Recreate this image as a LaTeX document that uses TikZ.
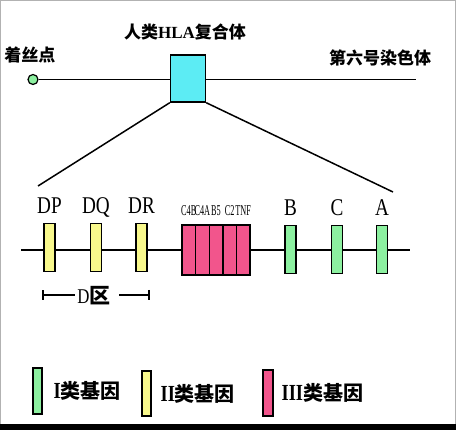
\documentclass[tikz,border=0pt]{standalone}
\usepackage{fontspec}
\setmainfont{Liberation Serif}
\newfontfamily\cjk{Noto Sans CJK SC}
\usetikzlibrary{positioning,arrows.meta}
\definecolor{genegreen}{HTML}{8CF0A0}
\definecolor{geneyellow}{HTML}{F8F88C}
\definecolor{genepink}{HTML}{F2558C}
\definecolor{hlacyan}{HTML}{5CECF4}
\newcommand{\narrowtxt}[1]{\scalebox{0.55}[1]{#1}}
\newcommand{\tallletters}[1]{\scalebox{0.8}[1]{#1}}

\begin{document}
\begin{tikzpicture}[x=1pt,y=-1pt,
		line width=1.8pt,
		gene/.style={draw=black,line width=1.4pt,minimum width=11pt,minimum height=48pt,inner sep=0pt},
		classI/.style={gene,fill=genegreen},
		classII/.style={gene,fill=geneyellow},
		classIII/.style={gene,fill=genepink,minimum width=13.6pt,minimum height=50pt},
		lbl/.style={font=\fontsize{24}{24}\selectfont,inner sep=0pt,text depth=0pt},
		small/.style={font=\fontsize{15}{15}\selectfont,inner sep=0pt,text depth=0pt},
		cn/.style={font=\cjk\bfseries\fontsize{17}{17}\selectfont,inner sep=0pt},
		legtxt/.style={font=\cjk\bfseries\fontsize{20}{20}\selectfont,inner sep=0pt}]
		
		\useasboundingbox (0,0) rectangle (456,430);
		\draw[gray!60,line width=1pt] (0.5,0.5) rectangle (455.5,429.5);
		\fill[black] (0,424) rectangle (456,430);
		
		% chromosome 6
		\node[circle,draw,line width=1.2pt,fill=genegreen,minimum size=10pt,inner sep=0pt] (cen) at (33,79.5) {};
		\node[draw,line width=1.4pt,fill=hlacyan,minimum width=35pt,minimum height=47pt,inner sep=0pt] (hla) at (188,78.5) {};
		\coordinate (chrend) at (416,79.5);
		\draw (cen.east) -- (hla.west |- cen);
		\draw (hla.east |- cen) -- (chrend);
		\node[cn] (cenlbl) at (30,55) {着丝点};
		\node[cn] (hlalbl) at (185,32) {人类{\rmfamily\bfseries HLA}复合体};
		\node[cn] (chrlbl) at (380,58) {第六号染色体};
		
		% zoom
		\coordinate (zl) at (38,186);
		\coordinate (zr) at (393,192);
		\draw[line width=1.5pt] (hla.south west) -- (zl);
		\draw[line width=1.5pt] (hla.south east) -- (zr);
		
		% HLA region
		\coordinate (ml) at (21,250);
		\coordinate (mr) at (410,250);
		\draw (ml) -- (mr);
		\node[classII] (dp) at (49.5,247.5) {};
		\node[classII] (dq) at (96,247.5) {};
		\node[classII] (dr) at (141.5,247.5) {};
		\foreach \name [count=\i] in {c4b,c4a,bf,ctwo,tnf}
			\node[classIII] (\name) at (175.2+13.6*\i,250) {};
		\node[classI] (b) at (290.5,249.5) {};
		\node[classI] (c) at (337,249.5) {};
		\node[classI] (a) at (382,249.5) {};
		
		\node[lbl,above=8pt of dp] (dplbl) {\tallletters{DP}};
		\node[lbl,above=8pt of dq] (dqlbl) {\tallletters{DQ}};
		\node[lbl,above=8pt of dr] (drlbl) {\tallletters{DR}};
		\node[lbl,above=8pt of b] (blbl) {\tallletters{B}};
		\node[lbl,above=8pt of c] (clbl) {\tallletters{C}};
		\node[lbl,above=8pt of a] (albl) {\tallletters{A}};
		\node[small,above=8pt of c4b] (c4blbl) {\narrowtxt{C4B}};
		\node[small,above=8pt of c4a] (c4albl) {\narrowtxt{C4A}};
		\node[small,above=8pt of bf] (bflbl) {\narrowtxt{B5}};
		\node[small,above=8pt of ctwo] (ctwolbl) {\narrowtxt{C2}};
		\node[small,above=8pt of tnf] (tnflbl) {\narrowtxt{TNF}};
		
		% D region
		\node[lbl,font=\fontsize{21}{21}\selectfont] (dreg) at (94,295) {\tallletters{D}{\cjk\bfseries 区}};
		\coordinate (dregl) at (42,295);
		\coordinate (dregr) at (150,295);
		\draw[{Bar[width=10pt]}-] (dregl) -- ([xshift=-2pt]dreg.west);
		\draw[-{Bar[width=10pt]}] ([xshift=8pt]dreg.east) -- (dregr);
		
		% legend
		\node[classI,minimum width=9pt,minimum height=46pt] (legI) at (37.5,391) {};
		\node[legtxt,right=10pt of legI] (legIlbl) {{\rmfamily\bfseries\fontsize{23}{23}\selectfont\tallletters{I}}类基因};
		\node[classII,minimum width=9pt,minimum height=45pt] (legII) at (146.5,393.5) {};
		\node[legtxt,right=8pt of legII] (legIIlbl) {{\rmfamily\bfseries\fontsize{23}{23}\selectfont\tallletters{II}}类基因};
		\node[classIII,minimum width=10pt,minimum height=46pt] (legIII) at (268,393) {};
		\node[legtxt,right=7pt of legIII] (legIIIlbl) {{\rmfamily\bfseries\fontsize{23}{23}\selectfont\tallletters{III}}类基因};
\end{tikzpicture}
\end{document}
